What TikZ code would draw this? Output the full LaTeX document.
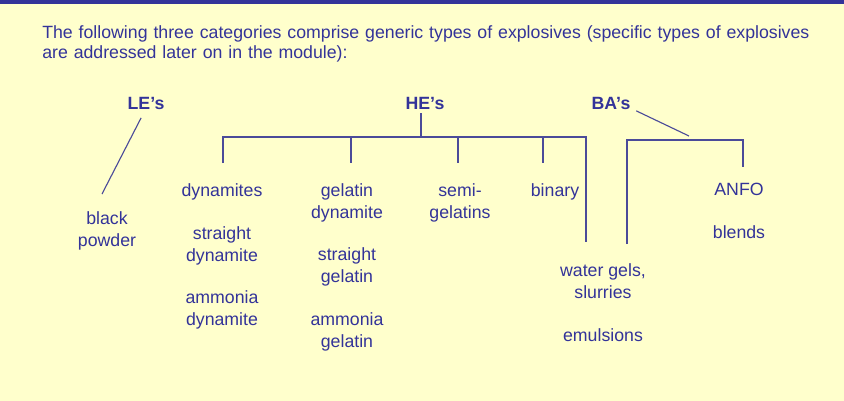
\documentclass[tikz,border=0pt]{standalone}
\usepackage{fontspec}
\setmainfont{Liberation Sans}
\definecolor{slideblue}{HTML}{333399}
\definecolor{slidebg}{HTML}{FFFFCC}
\definecolor{treeline}{HTML}{4B4B99}
\begin{document}
\begin{tikzpicture}[
        x=0.025cm, y=-0.025cm,
        font=\fontsize{12.6}{15.6}\selectfont,
        every node/.style={text=slideblue},
        itembox/.style={align=center, inner sep=0pt},
        headbox/.style={font=\fontsize{12.6}{15.6}\selectfont\bfseries, inner sep=0pt},
        treeedge/.style={draw=treeline, line width=0.8pt}
    ]
        \fill[slidebg] (0,0) rectangle (844,401);
        \fill[slideblue] (0,0) rectangle (844,4);
        \useasboundingbox (0,0) rectangle (844,401);

        \node[anchor=west, align=left, inner sep=0pt, text width=20cm,
              font=\fontsize{12.6}{14.4}\selectfont]
            (intro) at (42,44)
            {The following three categories comprise generic types of explosives (specific types of explosives\\
             are addressed later on in the module):};

        \node[headbox] (le) at (146,103) {LE’s};
        \node[headbox] (he) at (425,103) {HE’s};
        \node[headbox] (ba) at (611,103) {BA’s};

        \node[itembox] (blackpowder) at (107,231) {black\\powder};

        \node[itembox] (dynamites) at (222,192) {dynamites};
        \node[itembox] (straightdyn) at (222,246) {straight\\dynamite};
        \node[itembox] (ammoniadyn) at (222,310) {ammonia\\dynamite};

        \node[itembox] (gelatindyn) at (347,203) {gelatin\\dynamite};
        \node[itembox] (straightgel) at (347,267) {straight\\gelatin};
        \node[itembox] (ammoniagel) at (347,332) {ammonia\\gelatin};

        \node[itembox] (semigel) at (460,203) {semi-\\gelatins};
        \node[itembox] (binary) at (555,192) {binary};
        \node[itembox] (watergels) at (603,281) {water gels,\\slurries};
        \node[itembox] (emulsions) at (603,335) {emulsions};

        \node[itembox] (anfo) at (739,189) {ANFO};
        \node[itembox] (blends) at (739,232) {blends};

        % junction points of the two trees
        \coordinate (leFoot) at (102,194);
        \coordinate (heJoin) at (421,137);
        \coordinate (heLeft) at (223,137);
        \coordinate (heRight) at (586,137);
        \coordinate (dynTop) at (223,163);
        \coordinate (gelTop) at (351,163);
        \coordinate (semiTop) at (458,163);
        \coordinate (binTop) at (543,163);
        \coordinate (binJoin) at (543,137);
        \coordinate (gelJoin) at (351,137);
        \coordinate (semiJoin) at (458,137);
        \coordinate (waterTop) at (586,242);
        \coordinate (baTip) at (689,136);
        \coordinate (baLeft) at (627,140);
        \coordinate (baRight) at (743,140);
        \coordinate (baWater) at (627,244);
        \coordinate (anfoTop) at (743,167);

        \draw[treeedge] ([xshift=-3.5pt, yshift=-6pt]le.south) -- (leFoot);

        \draw[treeedge] (heJoin |- he.south) ++(0,4) -- (heJoin);
        \draw[treeedge] (dynTop) -- (heLeft) -- (heRight) -- (waterTop);
        \draw[treeedge] (gelJoin) -- (gelTop);
        \draw[treeedge] (semiJoin) -- (semiTop);
        \draw[treeedge] (binJoin) -- (binTop);

        \draw[treeedge] ([xshift=4pt, yshift=-1pt]ba.south east) -- (baTip);
        \draw[treeedge] (baWater) -- (baLeft) -- (baRight) -- (anfoTop);
    \end{tikzpicture}
\end{document}
